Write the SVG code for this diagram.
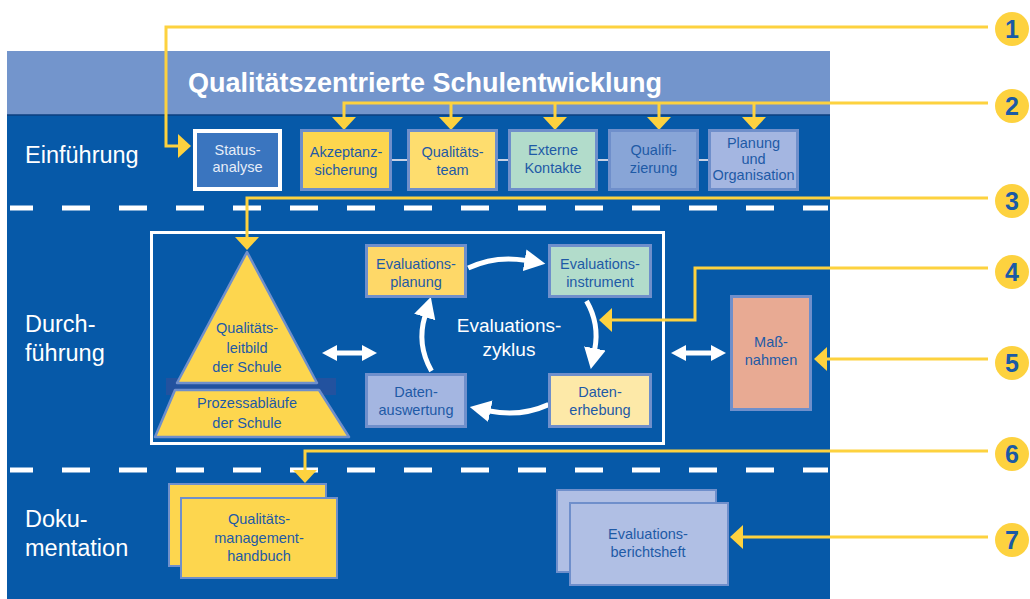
<svg xmlns="http://www.w3.org/2000/svg" width="1030" height="599" viewBox="0 0 1030 599">
<style>
.nt{font-family:"Liberation Sans",Arial,sans-serif;font-size:14.5px;fill:#1e5aa6;text-anchor:middle}
.lbl{font-family:"Liberation Sans",Arial,sans-serif;font-size:23.5px;fill:#ffffff}
.box{stroke:#6f8fcb;stroke-width:3}
.lead{fill:none;stroke:#fdd23f;stroke-width:3}
.cyc{fill:none;stroke:#ffffff;stroke-width:5}
.num{font-family:"Liberation Sans",Arial,sans-serif;font-size:25px;font-weight:bold;fill:#1a5aa6;text-anchor:middle}
.dash{stroke:#ffffff;stroke-width:5;stroke-dasharray:28 29;stroke-dashoffset:5}
</style>
<defs>
<marker id="ya" viewBox="0 -12 13 24" refX="0" refY="0" markerWidth="13" markerHeight="24" markerUnits="userSpaceOnUse" orient="auto">
<path d="M0,-12 L13,0 L0,12 z" fill="#fdd23f"/>
</marker>
<marker id="wa" viewBox="0 -12 22 24" refX="1" refY="0" markerWidth="22" markerHeight="24" markerUnits="userSpaceOnUse" orient="auto">
<path d="M0,-11 L21,0 L0,11 z" fill="#ffffff"/>
</marker>
</defs>
<rect x="0" y="0" width="1030" height="599" fill="#ffffff"/>
<g id="panel">
<rect x="7" y="51" width="823" height="548" fill="#0659a8"/>
<rect x="7" y="51" width="823" height="64" fill="#7395cc"/>
<line x1="7" y1="115" x2="830" y2="115" stroke="#0b3f7f" stroke-width="1.5"/>
<text x="188" y="92" font-family="Liberation Sans,Arial,sans-serif" font-size="27" font-weight="bold" fill="#ffffff">Qualitätszentrierte Schulentwicklung</text>
<line class="dash" x1="10" y1="208" x2="828" y2="208"/>
<line class="dash" x1="10" y1="470" x2="828" y2="470"/>
<text class="lbl" x="25" y="163">Einführung</text>
<text class="lbl" x="25" y="332">Durch-</text>
<text class="lbl" x="25" y="361">führung</text>
<text class="lbl" x="25" y="527">Doku-</text>
<text class="lbl" x="25" y="556">mentation</text>
<rect x="151.5" y="232.5" width="512" height="211" fill="none" stroke="#ffffff" stroke-width="3"/>
</g>
<g id="connectors">
<line x1="390" y1="160" x2="410" y2="160" stroke="#c9d2e4" stroke-width="2"/>
<line x1="496" y1="160" x2="510" y2="160" stroke="#c9d2e4" stroke-width="2"/>
<line x1="596" y1="160" x2="610" y2="160" stroke="#c9d2e4" stroke-width="2"/>
<line x1="696" y1="160" x2="710" y2="160" stroke="#c9d2e4" stroke-width="2"/>
<path class="cyc" d="M468.2,268 A87,77 0 0 1 525.6,260.4" marker-end="url(#wa)"/>
<path class="cyc" d="M586.5,301 A87,77 0 0 1 594.7,349.4" marker-end="url(#wa)"/>
<path class="cyc" d="M548.5,404.6 A87,77 0 0 1 489.4,411" marker-end="url(#wa)"/>
<path class="cyc" d="M431.5,371 A87,77 0 0 1 425,316.1" marker-end="url(#wa)"/>
<path d="M322,353 L337,345 L337,350.5 L362,350.5 L362,345 L377,353 L362,361 L362,355.5 L337,355.5 L337,361 z" fill="#ffffff"/>
<path d="M671,353 L686,345 L686,350.5 L711,350.5 L711,345 L726,353 L711,361 L711,355.5 L686,355.5 L686,361 z" fill="#ffffff"/>
<path class="lead" d="M988,27 H166 V146 H178" marker-end="url(#ya)"/>
<path class="lead" d="M988,103 H344 V117" marker-end="url(#ya)"/>
<path class="lead" d="M451,103 V117" marker-end="url(#ya)"/>
<path class="lead" d="M555,103 V117" marker-end="url(#ya)"/>
<path class="lead" d="M659,103 V117" marker-end="url(#ya)"/>
<path class="lead" d="M754,103 V117" marker-end="url(#ya)"/>
<path class="lead" d="M988,198 H247 V237" marker-end="url(#ya)"/>
<path class="lead" d="M988,268 H695 V320 H612" marker-end="url(#ya)"/>
<path class="lead" d="M988,359 H827" marker-end="url(#ya)"/>
<path class="lead" d="M988,451 H305 V470" marker-end="url(#ya)"/>
<path class="lead" d="M988,537 H743" marker-end="url(#ya)"/>
</g>
<g id="n-status">
<rect x="195" y="131" width="85" height="58" fill="#3a75bf" stroke="#ffffff" stroke-width="4"/>
<text class="nt" x="237.5" y="155" style="fill:#e6edf8">Status-</text>
<text class="nt" x="237.5" y="172" style="fill:#e6edf8">analyse</text>
</g>
<g id="n-akzeptanz">
<rect class="box" x="301.5" y="130.5" width="89" height="59" fill="#fdd64e"/>
<text class="nt" x="346" y="157">Akzeptanz-</text>
<text class="nt" x="346" y="175">sicherung</text>
</g>
<g id="n-qteam">
<rect class="box" x="408.5" y="130.5" width="88" height="59" fill="#fedd6e"/>
<text class="nt" x="452.5" y="157">Qualitäts-</text>
<text class="nt" x="452.5" y="175">team</text>
</g>
<g id="n-extern">
<rect class="box" x="509.5" y="130.5" width="87" height="59" fill="#b2dccb"/>
<text class="nt" x="553" y="155">Externe</text>
<text class="nt" x="553" y="173">Kontakte</text>
</g>
<g id="n-qualifi">
<rect class="box" x="609.5" y="130.5" width="88" height="59" fill="#88a5d7"/>
<text class="nt" x="653.5" y="155">Qualifi-</text>
<text class="nt" x="653.5" y="173">zierung</text>
</g>
<g id="n-planung">
<rect class="box" x="709.5" y="130.5" width="88" height="59" fill="#a4b6e1"/>
<text class="nt" x="753.5" y="148">Planung</text>
<text class="nt" x="753.5" y="164">und</text>
<text class="nt" x="753.5" y="180">Organisation</text>
</g>
<g id="n-pyramid">
<rect x="166" y="378" width="170" height="17" fill="#22529f"/>
<path d="M247,252 L317,383 L177,383 z" fill="#fdd64e" stroke="#6f8fcb" stroke-width="2.5" stroke-linejoin="round"/>
<path d="M175,390 L319,390 L349,437 L155,437 z" fill="#fdd64e" stroke="#6f8fcb" stroke-width="2.5" stroke-linejoin="round"/>
<text class="nt" x="247" y="333">Qualitäts-</text>
<text class="nt" x="247" y="353">leitbild</text>
<text class="nt" x="247" y="372">der Schule</text>
<text class="nt" x="247" y="408">Prozessabläufe</text>
<text class="nt" x="247" y="428">der Schule</text>
</g>
<g id="n-evplanung">
<rect class="box" x="366.5" y="245.5" width="99" height="51" fill="#fed868"/>
<text class="nt" x="416" y="269">Evaluations-</text>
<text class="nt" x="416" y="287">planung</text>
</g>
<g id="n-evinstrument">
<rect class="box" x="549.5" y="245.5" width="101" height="51" fill="#b2dccb"/>
<text class="nt" x="600" y="269">Evaluations-</text>
<text class="nt" x="600" y="287">instrument</text>
</g>
<g id="n-auswertung">
<rect class="box" x="366.5" y="374.5" width="99" height="52" fill="#a4b6e1"/>
<text class="nt" x="416" y="397">Daten-</text>
<text class="nt" x="416" y="415">auswertung</text>
</g>
<g id="n-erhebung">
<rect class="box" x="549.5" y="374.5" width="101" height="52" fill="#fde9a8"/>
<text class="nt" x="600" y="397">Daten-</text>
<text class="nt" x="600" y="415">erhebung</text>
</g>
<g id="n-zyklus">
<text x="509" y="332" font-family="Liberation Sans,Arial,sans-serif" font-size="19" fill="#ffffff" text-anchor="middle">Evaluations-</text>
<text x="509" y="356" font-family="Liberation Sans,Arial,sans-serif" font-size="19" fill="#ffffff" text-anchor="middle">zyklus</text>
</g>
<g id="n-massnahmen">
<rect class="box" x="731.5" y="296.5" width="79" height="113" fill="#e8aa93"/>
<text class="nt" x="771" y="347">Maß-</text>
<text class="nt" x="771" y="365">nahmen</text>
</g>
<g id="n-handbuch">
<rect x="169" y="484" width="157" height="82" fill="#fdd64e" stroke="#6f8fcb" stroke-width="2"/>
<rect x="181" y="498" width="156" height="80" fill="#fdd64e" stroke="#6f8fcb" stroke-width="2"/>
<text class="nt" x="259" y="524">Qualitäts-</text>
<text class="nt" x="259" y="543">management-</text>
<text class="nt" x="259" y="561">handbuch</text>
</g>
<g id="n-bericht">
<rect x="557" y="490" width="159" height="82" fill="#b0bfe4" stroke="#6f8fcb" stroke-width="2"/>
<rect x="570" y="503" width="158" height="82" fill="#b0bfe4" stroke="#6f8fcb" stroke-width="2"/>
<text class="nt" x="648" y="539">Evaluations-</text>
<text class="nt" x="648" y="557">berichtsheft</text>
</g>
<g id="badges">
<g id="b1"><circle cx="1012" cy="29" r="17" fill="#fdd23f"/><text class="num" x="1012" y="38">1</text></g>
<g id="b2"><circle cx="1012" cy="106" r="17" fill="#fdd23f"/><text class="num" x="1012" y="115">2</text></g>
<g id="b3"><circle cx="1012" cy="201" r="17" fill="#fdd23f"/><text class="num" x="1012" y="210">3</text></g>
<g id="b4"><circle cx="1012" cy="272" r="17" fill="#fdd23f"/><text class="num" x="1012" y="281">4</text></g>
<g id="b5"><circle cx="1012" cy="363" r="17" fill="#fdd23f"/><text class="num" x="1012" y="372">5</text></g>
<g id="b6"><circle cx="1012" cy="454" r="17" fill="#fdd23f"/><text class="num" x="1012" y="463">6</text></g>
<g id="b7"><circle cx="1012" cy="540" r="17" fill="#fdd23f"/><text class="num" x="1012" y="549">7</text></g>
</g>
</svg>
